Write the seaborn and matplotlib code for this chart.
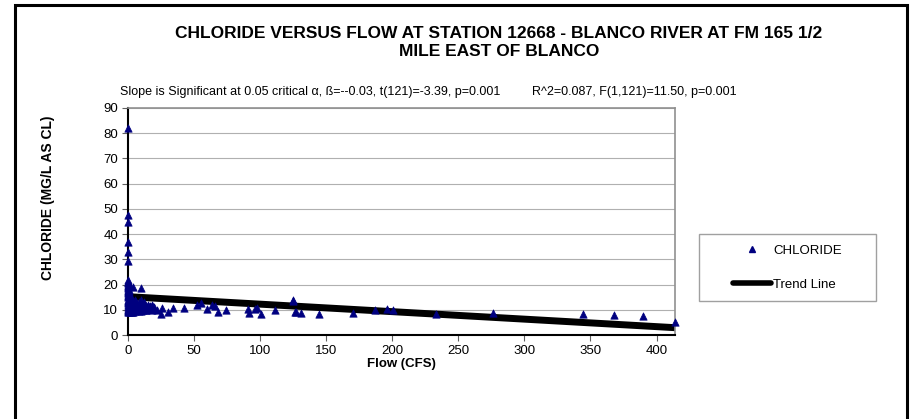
import numpy as np
import pandas as pd
import matplotlib
matplotlib.use("Agg")
import matplotlib.pyplot as plt
import matplotlib.patches as mpatches
from matplotlib.lines import Line2D
import seaborn as sns

# ---- data ----
flow = [
    0, 0, 0, 0, 0, 0, 0, 0, 0, 0,
    0, 0, 0, 0, 0, 0, 0, 0, 0, 0,
    0.3, 0.5, 0.5, 0.8, 1, 1, 1, 1.2, 1.5, 1.5,
    2, 2, 2, 2.5, 3, 3, 3, 3.5, 4, 4,
    4, 5, 5, 5, 6, 6, 6, 7, 7, 8,
    8, 8, 9, 9, 10, 10, 10, 11, 11, 12,
    12, 13, 13, 14, 14, 15, 15, 16, 17, 18,
    18, 19, 20, 4, 9.8, 21.7, 25, 26, 30, 34.3,
    42.4, 52, 55.3, 59.6, 63.9, 66, 68, 74.2, 91, 91.5,
    96, 97.5, 100.8, 110.9, 124.7, 126.5, 125.2, 127, 131, 144.2,
    170.2, 187, 196, 200.2, 233, 276.3, 344.2, 368.2, 390, 414,
    0, 0, 0, 0, 0, 0, 0, 0, 0, 0,
    1, 2, 3,
]
chloride = [
    82, 47.6, 44.7, 37, 32.8, 29.5, 22, 21, 20, 19,
    18, 17.5, 17, 16, 15.5, 15, 14, 13, 12, 11,
    21, 20, 18, 17, 16, 14, 12, 10, 13, 11,
    15, 13, 11, 9, 14, 12, 10, 9, 13, 11,
    10, 14, 12, 9.5, 13, 11, 10, 12, 10.5, 13,
    11, 9.5, 12, 10, 14, 11, 9.5, 12, 10, 13,
    11, 12, 10, 11.5, 10, 12, 10.5, 11, 11.5, 10,
    12, 11, 11, 18.9, 18.8, 9.9, 8.3, 10.6, 9, 10.6,
    10.6, 11.9, 12.8, 10.2, 11.9, 11.4, 9.3, 9.9, 10.3, 8.9,
    10.3, 10.6, 8.3, 9.9, 13.6, 9.3, 13.9, 9.3, 8.6, 8.3,
    8.6, 9.9, 10.3, 9.9, 8.3, 8.8, 8.2, 7.9, 7.7, 5.3,
    10, 9.5, 12.5, 13.5, 16.5, 18.5, 19.5, 20.5, 10.5, 9,
    9, 9.5, 9,
]
trend_flow = [0, 414]
trend_chloride = [15.2, 2.9]

x_ticks = [0, 50, 100, 150, 200, 250, 300, 350, 400]
y_ticks = [0, 10, 20, 30, 40, 50, 60, 70, 80, 90]

title = "CHLORIDE VERSUS FLOW AT STATION 12668 - BLANCO RIVER AT FM 165 1/2\nMILE EAST OF BLANCO"
sub_left = "Slope is Significant at 0.05 critical \u03b1, \u00df=--0.03, t(121)=-3.39, p=0.001"
sub_right = "R^2=0.087, F(1,121)=11.50, p=0.001"

df = pd.DataFrame({"flow": flow, "chloride": chloride})
tr = pd.DataFrame({"flow": trend_flow, "chloride": trend_chloride})

sns.set_theme(style="white")
plt.rcParams['font.family'] = ['Liberation Sans', 'DejaVu Sans']
for k in ['text.color', 'axes.labelcolor', 'xtick.color', 'ytick.color']:
    plt.rcParams[k] = 'black'

fig = plt.figure(figsize=(9.11, 4.19), dpi=100)
ax = fig.add_axes([128/911, 1-335/419, (675-128)/911, (335-108)/419])

# figure border
fig.patches.append(mpatches.Rectangle((15/911, -0.05), (907-15)/911, 1.05 - 5/419,
                                      transform=fig.transFigure, fill=False,
                                      edgecolor='black', linewidth=2.2))

sns.lineplot(data=tr, x="flow", y="chloride", ax=ax, color='black',
             linewidth=5, zorder=2, legend=False)
sns.scatterplot(data=df, x="flow", y="chloride", ax=ax, marker='^',
                color='#000080', edgecolor='#000080', s=28, linewidth=0.5,
                zorder=3, legend=False, clip_on=False)

ax.set_xlim(0, 414)
ax.set_ylim(0, 90)
ax.set_xticks(x_ticks)
ax.set_yticks(y_ticks)
ax.yaxis.grid(True, color='#b0b0b0', linewidth=0.8)
ax.set_axisbelow(True)
for s in ['top', 'right']:
    ax.spines[s].set_color('#909090')
    ax.spines[s].set_linewidth(1.2)
for s in ['left', 'bottom']:
    ax.spines[s].set_color('black')
    ax.spines[s].set_linewidth(1.5)
ax.tick_params(axis='both', which='both', direction='out', length=4, width=0.8,
               color='#606060', labelsize=9.5, pad=3, bottom=True, left=True)
ax.set_xlabel("Flow (CFS)", fontsize=9.5, fontweight='bold')
ax.xaxis.set_label_coords(0.5, -(364-335)/227)
ax.xaxis.label.set_va('center')
ax.set_ylabel("CHLORIDE (MG/L AS CL)", fontsize=10, fontweight='bold')
ax.yaxis.set_label_coords((48-128)/547, (335-198)/227)
ax.yaxis.label.set_va('center')

fig.text(499/911, 1-42.5/419, title, ha='center', va='center', fontsize=12.5,
         fontweight='bold', linespacing=1.2)
fig.text(120/911, 1-92/419, sub_left, ha='left', va='center', fontsize=9)
fig.text(532/911, 1-92/419, sub_right, ha='left', va='center', fontsize=9)

# legend box
fig.patches.append(mpatches.Rectangle((699/911, 1-301/419), (876-699)/911, (301-234)/419,
                                      transform=fig.transFigure, fill=False,
                                      edgecolor='#a0a0a0', linewidth=1))
handles = [Line2D([], [], linestyle='none', marker='^', color='#000080',
                  markersize=5),
           Line2D([], [], color='black', linewidth=4)]
leg = fig.legend(handles, ["CHLORIDE", "Trend Line"],
                 loc='center left', bbox_to_anchor=(733/911, 1-267.5/419),
                 frameon=False, fontsize=9.5,
                 handlelength=2.9, handletextpad=0.15, borderpad=0,
                 labelspacing=1.65, borderaxespad=0)

fig.savefig("out.png", dpi=100)
